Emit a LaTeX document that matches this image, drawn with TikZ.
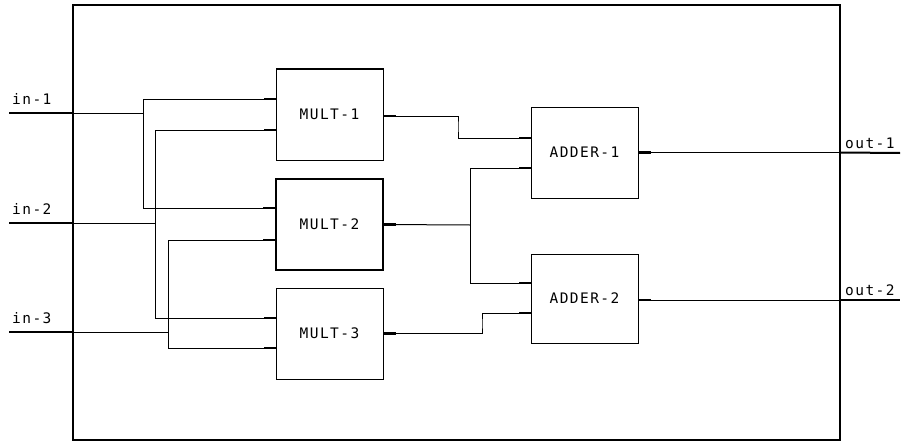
\documentclass[tikz,border=0pt]{standalone}
\usepackage{fontspec}
\newfontfamily\plotfont[LetterSpace=10]{DejaVu Sans Mono}
\begin{document}
\begin{tikzpicture}[x=1pt,y=-1pt,
  wire/.style={line width=1pt},
  stub/.style={line width=2.2pt},
  thickio/.style={line width=2pt},
  block/.style={draw,line width=1pt,minimum width=107pt,minimum height=91pt,inner sep=0pt,font=\plotfont\fontsize{14.5}{16}\selectfont},
  lbl/.style={inner sep=0pt,anchor=base west,font=\plotfont\fontsize{14.5}{16}\selectfont}]
\useasboundingbox (0,0) rectangle (907,444);
% outer frame
\node[draw,line width=1.1pt,minimum width=767pt,minimum height=435pt,inner sep=0pt] (frame) at (456.5,222.5) {};
% blocks
\node[block] (m1) at (329.5,114.5) {MULT-1};
\node[block,line width=1.8pt] (m2) at (329.5,224.5) {MULT-2};
\node[block] (m3) at (329.5,333.5) {MULT-3};
\node[block] (a1) at (584.5,152.5) {ADDER-1};
\node[block,minimum height=89pt] (a2) at (584.5,298.5) {ADDER-2};
% ports
\coordinate (m1i1) at ([yshift=15.5pt]m1.west);
\coordinate (m1i2) at ([yshift=-15.5pt]m1.west);
\coordinate (m2i1) at ([yshift=16.5pt]m2.west);
\coordinate (m2i2) at ([yshift=-15.5pt]m2.west);
\coordinate (m3i1) at ([yshift=15.5pt]m3.west);
\coordinate (m3i2) at ([yshift=-14.5pt]m3.west);
\coordinate (m1o) at ([yshift=-1.5pt]m1.east);
\coordinate (m2o) at (m2.east);
\coordinate (m3o) at (m3.east);
\coordinate (a1i1) at ([yshift=14.5pt]a1.west);
\coordinate (a1i2) at ([yshift=-15.5pt]a1.west);
\coordinate (a2i1) at ([yshift=15.5pt]a2.west);
\coordinate (a2i2) at ([yshift=-14.5pt]a2.west);
\coordinate (a1o) at (a1.east);
\coordinate (a2o) at ([yshift=-1.5pt]a2.east);
% external terminals
\coordinate (in1) at (9,113);
\coordinate (in2) at (9,223);
\coordinate (in3) at (9,332);
\coordinate (out1) at (900,153);
\coordinate (out2) at (900,300);
\coordinate (f1) at (frame.west |- in1);
\coordinate (f2) at (frame.west |- in2);
\coordinate (f3) at (frame.west |- in3);
\coordinate (g1) at (frame.east |- a1o);
\coordinate (g2) at (frame.east |- a2o);
% junctions
\coordinate (j1) at (143,113);
\coordinate (j2) at (155,223);
\coordinate (j3) at (168,332);
\coordinate (j4) at (470,225);
% labels
\node[lbl] (l1) at (12,104) {in-1};
\node[lbl] (l2) at (12,214) {in-2};
\node[lbl] (l3) at (12,323) {in-3};
\node[lbl] (l4) at (845,148) {out-1};
\node[lbl] (l5) at (845,295) {out-2};
% input wiring
\draw[thickio] (in1) -- (f1);
\draw[thickio] (in2) -- (f2);
\draw[thickio] (in3) -- (f3);
\draw[wire] (f1) -- (j1);
\draw[wire] (j1) |- (m1i1);
\draw[wire] (j1) |- (m2i1);
\draw[wire] (f2) -- (j2);
\draw[wire] (j2) |- (m1i2);
\draw[wire] (j2) |- (m3i1);
\draw[wire] (f3) -- (j3);
\draw[wire] (j3) |- (m2i2);
\draw[wire] (j3) |- (m3i2);
% multiplier outputs
\draw[wire] (m1o) -| (458,126) |- (a1i1);
\draw[wire] (m2o) -- (j4);
\draw[wire] (j4) |- (a1i2);
\draw[wire] (j4) |- (a2i1);
\draw[wire] (m3o) -| (482,324) |- (a2i2);
% adder outputs
\draw[wire] (a1o) -- (g1);
\draw[wire] (a2o) -- (g2);
\draw[thickio] (g1) -- (out1);
\draw[thickio] (g2) -- (out2);
% port stubs
\foreach \p in {m1i1,m1i2,m2i1,m2i2,m3i1,m3i2,a1i1,a1i2,a2i1,a2i2}
  \draw[stub] (\p) -- ++(-12,0);
\foreach \p in {m1o,m2o,m3o,a1o,a2o}
  \draw[stub] (\p) -- ++(12,0);
\end{tikzpicture}
\end{document}
